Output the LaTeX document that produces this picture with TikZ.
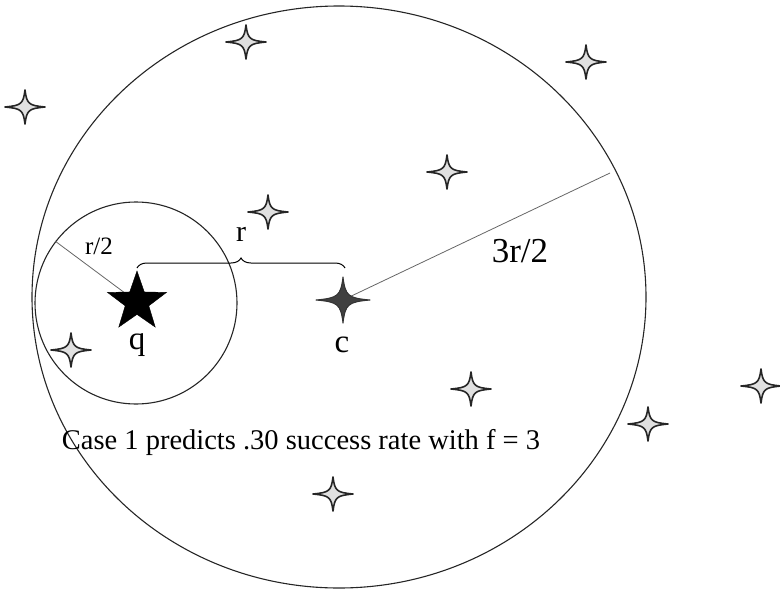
\documentclass[tikz,border=0pt]{standalone}
\usepackage{fontspec}
\setmainfont{Liberation Serif}
\usetikzlibrary{shapes.geometric,decorations.pathreplacing}
\tikzset{
  sparkle/.pic={
    \path[pic actions] (1,0) .. controls (0.18,0.09) and (0.09,0.18) .. (0,1)
      .. controls (-0.09,0.18) and (-0.18,0.09) .. (-1,0)
      .. controls (-0.18,-0.09) and (-0.09,-0.18) .. (0,-1)
      .. controls (0.09,-0.18) and (0.18,-0.09) .. cycle;
  },
  lightstar/.style={draw=black!85, fill=black!12, line width=1.6pt, line join=round, xscale=20, yscale=17},
  darkstar/.style={draw=black!80, fill=black!75, line width=1pt, line join=round, xscale=27, yscale=23},
  circ/.style={draw=black!85, line width=1.1pt},
  radline/.style={draw=black!60, line width=0.8pt},
  lbl/.style={font=\fontsize{#1}{#1}\selectfont, inner sep=0pt},
}
\begin{document}
\begin{tikzpicture}[x=1pt,y=-1pt]
\useasboundingbox (0,0) rectangle (780,592);
% circles
\draw[circ] (339,297) ellipse [x radius=307, y radius=291];
\coordinate (q) at (137,302);
\coordinate (c) at (343,300);
\draw[circ] (136,303) circle [radius=101];
% radii
\coordinate (rq) at (55,241);
\coordinate (rc) at (610,173);
\draw[radline] (q) -- (rq);
\draw[radline] (c) -- (rc);
% stars
\node[star, star points=5, star point ratio=2.5, minimum size=62pt, fill=black, draw=black, inner sep=0pt] (qs) at (q) {};
\pic[darkstar] at (c) {sparkle};
\foreach \p in {(246,42),(586,62),(25,107),(447,172),(268,212),(71,350),(471,389),(761,386),(648,424),(333,494)}
  \pic[lightstar] at \p {sparkle};
% brace
\coordinate (bq) at (137,268);
\coordinate (bc) at (345,268);
\draw[line width=1pt, decorate, decoration={brace, amplitude=10pt}] (bq) -- (bc);
% labels
\node[lbl=30] (lr) at (241,234) {r};
\node[lbl=25] (lr2) at (99,246) {r/2};
\node[lbl=35] (l3r) at (520,251) {3r/2};
\node[lbl=33] (lq) at (137,345) {q};
\node[lbl=33] (lc) at (342,345) {c};
\node[lbl=28.5] (cap) at (301,442) {Case 1 predicts .30 success rate with f = 3};
\end{tikzpicture}
\end{document}
